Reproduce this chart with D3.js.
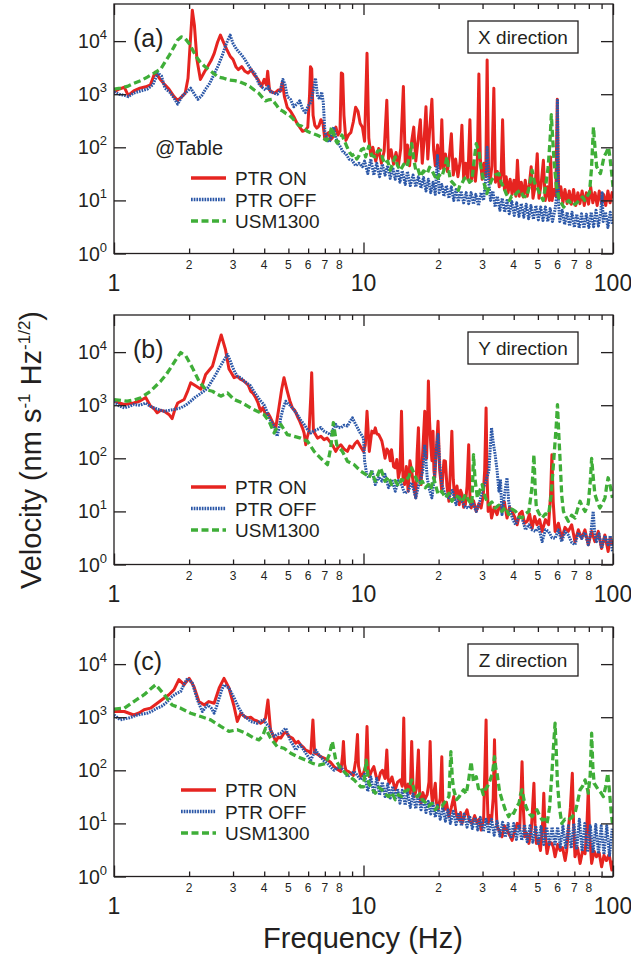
<!DOCTYPE html>
<html>
<head>
<meta charset="utf-8">
<script src="https://cdn.jsdelivr.net/npm/d3@7/dist/d3.min.js"></script>
<style>
  body { margin: 0; background: #fff; }
  text { font-family: "Liberation Sans", Arial, sans-serif; fill: #231f20; }
</style>
</head>
<body>
<svg id="chart"></svg>
<script>
// [frequency Hz, velocity nm s^-1 Hz^-1/2]
const aOn = [[1.0,1100],[1.05,1250],[1.1,1350],[1.14,950],[1.2,1150],[1.27,1300],[1.34,1380],[1.4,1500],[1.46,2600],[1.52,2000],[1.6,1500],[1.66,1250],[1.74,900],[1.8,760],[1.87,900],[1.93,1050],[1.98,2000],[2.02,9000],[2.06,38000],[2.1,20000],[2.15,4500],[2.22,1900],[2.3,2600],[2.38,3400],[2.45,4300],[2.52,5800],[2.6,9500],[2.67,13000],[2.74,9800],[2.83,7000],[2.92,5200],[3.0,4500],[3.08,3300],[3.15,2900],[3.25,3300],[3.35,2700],[3.45,2500],[3.55,2900],[3.65,2300],[3.78,1900],[3.9,1400],[4.0,1900],[4.08,1500],[4.13,2700],[4.2,1200],[4.3,1100],[4.42,1050],[4.55,1200],[4.65,1150],[4.73,1700],[4.82,900],[4.95,560],[5.1,480],[5.25,380],[5.4,290],[5.55,240],[5.7,200],[5.85,210],[5.98,240],[6.08,1000],[6.13,3300],[6.2,3000],[6.28,400],[6.38,260],[6.5,230],[6.62,250],[6.75,330],[6.88,280],[7.0,140],[7.12,175],[7.25,190],[7.38,140],[7.5,150],[7.62,200],[7.75,240],[7.9,170],[8.05,200],[8.15,2500],[8.25,2400],[8.35,400],[8.5,135],[8.7,170],[8.9,190],[9.1,300],[9.3,570],[9.5,480],[9.7,280],[9.9,240],
  [10.1,130],[10.33,5900],[10.5,150],[10.7,70],[10.9,100],[11.2,55],[11.5,95],[11.8,50],[12.1,85],[12.4,770],[12.6,60],[12.9,90],[13.2,48],[13.5,80],[13.8,45],[14.1,95],[14.45,1400],[14.7,50],[15.0,110],[15.3,45],[15.6,130],[15.9,240],[16.2,55],[16.5,120],[16.9,330],[17.2,50],[17.5,140],[17.8,580],[18.1,60],[18.4,200],[18.8,800],[19.1,90],[19.4,45],[19.8,110],[20.3,40],[20.6,330],[20.9,40],[21.3,75],[21.7,35],[22.1,70],[22.5,180],[22.9,30],[23.4,60],[23.9,28],[24.4,55],[24.8,260],[25.2,26],[25.7,50],[26.2,25],[26.7,330],[27.1,25],[27.6,45],[28.1,23],[28.6,60],[29.0,2400],[29.4,60],[29.9,25],[30.4,50],[30.9,28],[31.3,4400],[31.7,40],[32.2,23],[32.7,45],[33.3,1300],[33.8,22],[34.4,35],[35.0,18],[35.6,30],[36.1,330],[36.7,16],[37.3,28],[38.0,14],[38.7,25],[39.4,13],[40.1,24],[40.8,12],[41.4,57],[42.1,12],[42.9,22],[43.7,11.6],[44.5,24],[45.3,12],[46.2,20],[47.0,43],[47.8,11],[48.7,18],[49.7,76],[50.5,11],[51.5,20],[52.6,57],[53.5,10],[54.6,18],[55.6,10],[56.2,66],[57.0,10],[58.0,16],[59.0,12],[59.8,800],[60.6,11],[61.8,18],[63.0,9],[64.2,16],[65.5,8.7],[66.8,15],[68.1,8.5],[69.5,16],[70.9,8],[72.3,14],[73.7,8.7],[75.2,15],[76.7,8],[78.2,14],[79.8,8.5],[81.4,18],[83.0,9],[84.7,14],[86.4,8],[88.1,15],[89.9,9],[91.7,13],[93.5,8],[95.4,15],[97.3,9],[99.2,14],[100,11]];

const aOff = [[1.0,1100],[1.05,1000],[1.1,950],[1.14,900],[1.2,1050],[1.28,1150],[1.36,1250],[1.43,1500],[1.5,2500],[1.55,2200],[1.6,1300],[1.67,1100],[1.74,850],[1.8,650],[1.87,900],[1.95,1100],[2.03,1300],[2.1,1000],[2.17,800],[2.25,950],[2.33,1250],[2.42,1600],[2.52,2400],[2.62,3500],[2.72,5500],[2.82,9000],[2.92,13000],[3.0,9000],[3.1,7000],[3.2,5900],[3.3,5000],[3.42,3800],[3.55,2900],[3.68,2400],[3.8,1600],[3.92,1350],[4.05,1200],[4.15,1400],[4.25,1100],[4.38,1050],[4.52,1000],[4.65,1200],[4.75,1900],[4.85,1500],[4.95,900],[5.1,800],[5.25,580],[5.4,650],[5.55,750],[5.7,520],[5.85,450],[6.0,600],[6.15,700],[6.3,1200],[6.42,2000],[6.55,900],[6.7,800],[6.8,1100],[6.9,700],[7.0,200],[7.15,140],[7.3,125],[7.45,170],[7.6,240],[7.75,150],[7.9,120],[8.1,100],[8.3,80],[8.5,76],[8.75,60],[9.0,57],[9.3,45],[9.6,50],[9.9,43],
  [10.1,55],[10.4,32],[10.7,60],[11.0,30],[11.3,50],[11.6,28],[11.9,48],[12.2,30],[12.5,45],[12.8,26],[13.1,42],[13.4,25],[13.7,38],[14.0,22],[14.3,36],[14.7,20],[15.0,35],[15.4,19],[15.8,30],[16.2,18],[16.6,28],[17.0,17],[17.4,27],[17.8,15],[18.2,25],[18.6,14],[19.0,22],[19.4,13],[19.8,70],[20.1,14],[20.6,20],[21.0,12],[21.5,19],[22.0,11],[22.5,18],[23.0,10],[23.5,16],[24.0,9.5],[24.6,15],[25.2,9],[25.8,14],[26.4,8.7],[27.0,14],[27.6,8.5],[28.2,13],[28.9,8],[29.6,14],[30.3,10],[31.0,30],[31.3,100],[31.7,25],[32.3,10],[33.0,15],[33.7,7.5],[34.4,12],[35.2,6.5],[36.0,11],[36.8,6],[37.6,10],[38.4,5.6],[39.3,9.5],[40.2,5.2],[41.1,9],[42.0,5],[42.9,8.7],[43.9,4.8],[44.9,8.5],[45.9,4.5],[46.9,8],[48.0,4.4],[49.1,8],[50.2,4.3],[51.3,7.5],[52.4,4.2],[53.6,7.5],[54.8,4],[56.0,7],[57.2,4],[58.5,6.5],[59.5,12],[59.9,770],[60.4,10],[61.2,4],[62.6,6.5],[64.0,3.5],[65.5,6],[67.0,3.3],[68.5,6],[70.0,3.1],[71.6,5.5],[73.2,3],[74.8,5.6],[76.5,3],[78.2,5.5],[80.0,3.1],[81.8,6],[83.6,3.2],[85.5,6.5],[87.4,3.3],[89.3,6],[90.5,14],[91.3,4],[93.3,6],[95.4,3.1],[97.5,6],[99.5,3.5]];

const aUsm = [[1.0,1250],[1.06,1300],[1.13,1400],[1.2,1600],[1.28,1800],[1.36,2100],[1.45,2500],[1.54,3000],[1.6,4000],[1.67,5500],[1.74,7800],[1.8,10500],[1.86,12000],[1.92,11500],[2.0,9000],[2.06,7000],[2.14,5000],[2.22,4000],[2.3,3400],[2.4,2900],[2.5,2500],[2.62,2100],[2.75,2000],[2.9,1850],[3.05,1800],[3.2,1700],[3.35,1550],[3.5,1400],[3.65,1200],[3.8,1050],[3.95,850],[4.05,750],[4.15,780],[4.3,800],[4.45,650],[4.6,520],[4.75,480],[4.9,430],[5.05,400],[5.2,350],[5.35,300],[5.5,260],[5.65,250],[5.8,220],[5.95,200],[6.1,190],[6.3,180],[6.5,170],[6.7,160],[6.9,150],[7.1,135],[7.3,160],[7.45,240],[7.55,200],[7.7,140],[7.85,120],[8.0,140],[8.2,170],[8.4,130],[8.6,100],[8.8,80],[9.0,70],[9.2,75],[9.4,60],[9.6,70],[9.8,90],
  [10.0,95],[10.2,66],[10.5,105],[10.8,70],[11.15,66],[11.4,85],[11.7,88],[11.95,60],[12.2,49],[12.5,55],[12.8,37],[13.1,50],[13.4,66],[13.7,45],[14.05,37],[14.5,48],[14.95,43],[15.3,70],[15.6,117],[15.9,60],[16.2,37],[16.5,40],[16.9,28],[17.4,36],[18.0,32],[18.4,42],[18.8,37],[19.2,30],[19.7,24],[20.1,30],[20.6,28],[21.1,40],[21.6,66],[22.0,35],[22.3,24],[23.1,20],[24.0,15.5],[24.4,20],[24.8,21],[25.4,26],[26.0,28],[26.6,22],[27.2,24],[27.8,60],[28.3,117],[28.7,95],[29.0,88],[29.5,45],[29.9,32],[30.5,20],[31.2,13.4],[31.9,18],[32.6,24],[33.7,30],[34.9,32],[35.6,22],[36.4,18],[37.4,13],[38.5,10],[39.2,12],[40.0,11.6],[41.2,14],[42.5,15.5],[43.7,12],[45.0,11.6],[46.2,18],[47.4,37],[48.4,22],[49.5,18],[51.0,13],[52.5,10],[53.8,20],[55.0,43],[56.0,150],[56.6,410],[57.3,150],[58.0,57],[59.2,20],[60.5,11.6],[62.0,9],[63.5,7.5],[65.0,9],[66.5,10],[68.7,8],[71.0,8.7],[73.2,10],[75.5,11.6],[77.0,10],[78.5,11.6],[80.5,14],[82.0,40],[83.5,240],[84.8,90],[86.0,43],[87.5,38],[89.0,32],[90.5,45],[92.0,66],[94.0,80],[96.0,100],[97.5,57],[99.0,30],[100,18]];

const bOn = [[1.0,1220],[1.05,1100],[1.1,1030],[1.2,1100],[1.27,1200],[1.34,1400],[1.4,970],[1.45,850],[1.49,720],[1.54,800],[1.59,770],[1.66,670],[1.71,560],[1.75,800],[1.8,1100],[1.91,1280],[1.97,1800],[2.03,2650],[2.13,2300],[2.23,2000],[2.33,3800],[2.48,5400],[2.6,12000],[2.69,21000],[2.8,11000],[2.89,4800],[2.96,4000],[3.03,3300],[3.12,3500],[3.22,3050],[3.3,2900],[3.37,2650],[3.45,2400],[3.53,1830],[3.6,1700],[3.7,1380],[3.78,1100],[3.87,770],[3.95,900],[4.05,670],[4.15,700],[4.24,580],[4.35,450],[4.45,375],[4.58,890],[4.7,2000],[4.8,3300],[4.95,1830],[5.07,1200],[5.19,890],[5.3,800],[5.43,620],[5.55,500],[5.69,375],[5.78,300],[5.87,180],[5.95,250],[6.05,325],[6.15,1500],[6.2,4100],[6.25,1200],[6.3,325],[6.42,280],[6.54,240],[6.75,260],[6.95,225],[7.15,240],[7.39,195],[7.55,170],[7.74,135],[7.9,160],[8.11,180],[8.35,150],[8.62,135],[8.8,170],[9.03,156],[9.25,190],[9.46,210],[9.7,170],[10.0,135],
  [10.17,180],[10.33,770],[10.55,135],[10.8,325],[11.0,300],[11.15,375],[11.3,290],[11.5,280],[11.7,240],[11.85,210],[12.0,156],[12.2,100],[12.4,150],[12.6,135],[12.8,90],[12.95,145],[13.2,70],[13.4,66],[13.6,95],[13.8,43],[14.0,60],[14.2,770],[14.4,45],[14.6,32],[14.85,70],[15.1,24],[15.35,90],[15.6,57],[15.9,30],[16.2,18],[16.4,120],[16.6,375],[16.8,40],[17.0,32],[17.3,150],[17.6,770],[17.75,120],[17.9,100],[18.05,400],[18.2,2850],[18.4,500],[18.6,180],[18.8,90],[19.0,325],[19.15,60],[19.3,43],[19.6,150],[19.9,500],[20.2,60],[20.6,24],[21.0,90],[21.3,88],[21.6,30],[22.0,15.5],[22.3,60],[22.6,325],[22.9,40],[23.2,18],[23.7,30],[24.2,13.4],[24.5,25],[24.8,21],[25.2,12],[25.6,13.4],[26.0,30],[26.4,180],[26.7,20],[27.0,11.6],[27.6,16],[28.3,10],[29.0,14],[29.6,11.6],[30.2,20],[30.6,60],[31.0,890],[31.3,40],[31.6,10],[32.1,14],[32.6,7.5],[33.4,12],[34.3,8.7],[35.1,13],[35.9,10],[36.7,15],[37.6,7.5],[38.5,12],[39.4,10],[40.3,8],[41.3,5.6],[42.2,9],[43.2,10],[44.2,6],[45.3,6.5],[46.3,9],[47.4,4.8],[48.5,8],[49.6,5.6],[50.8,7],[52.0,4.2],[53.6,7],[55.2,5.6],[56.2,20],[56.9,117],[57.6,15],[58.6,4.2],[60.4,6],[62.3,3.1],[64.2,5],[66.2,4.2],[68.3,5.6],[70.4,2.7],[72.6,4.5],[74.9,3.1],[77.2,4.5],[79.6,2.35],[82.1,4.2],[84.6,2.7],[87.3,4.2],[90.0,2.0],[92.8,3.6],[95.6,1.76],[97.5,3.2],[99.5,2.35]];

const bOff = [[1.0,1190],[1.05,970],[1.1,890],[1.15,950],[1.2,1030],[1.27,1000],[1.34,1100],[1.4,950],[1.45,890],[1.52,820],[1.59,770],[1.66,800],[1.74,830],[1.85,890],[1.94,1000],[2.03,1190],[2.11,1400],[2.19,1580],[2.28,1800],[2.37,2100],[2.46,2800],[2.56,3800],[2.64,5000],[2.72,6300],[2.85,9000],[2.92,7000],[2.98,5400],[3.05,4200],[3.12,3550],[3.22,3300],[3.32,2850],[3.42,2600],[3.53,2300],[3.64,1800],[3.75,1480],[3.87,1200],[3.99,1030],[4.08,800],[4.18,580],[4.28,480],[4.38,405],[4.51,260],[4.6,400],[4.66,580],[4.77,900],[4.88,1190],[5.0,1050],[5.11,970],[5.27,800],[5.43,670],[5.6,520],[5.78,435],[5.96,350],[6.15,300],[6.34,330],[6.54,350],[6.74,380],[6.95,325],[7.17,300],[7.39,280],[7.55,350],[7.74,435],[7.9,380],[8.11,375],[8.36,420],[8.62,405],[8.8,480],[9.03,580],[9.2,480],[9.46,375],[9.7,300],[10.0,240],
  [10.1,90],[10.3,50],[10.5,43],[10.8,60],[11.15,32],[11.5,45],[11.85,37],[12.2,50],[12.6,28],[13.0,40],[13.4,24],[13.8,38],[14.2,32],[14.6,22],[15.1,24],[15.6,35],[16.2,18],[16.6,30],[16.9,37],[17.3,60],[17.6,180],[17.8,90],[18.0,43],[18.4,25],[18.8,18],[19.2,40],[19.6,150],[19.9,280],[20.2,80],[20.6,32],[21.3,20],[22.0,18],[22.7,25],[23.5,13.4],[24.1,20],[24.8,15.5],[25.6,12],[26.4,11.6],[27.3,15],[28.3,10],[29.1,14],[29.9,24],[30.8,35],[31.8,57],[32.2,150],[32.6,375],[33.1,200],[33.7,117],[34.3,60],[34.9,24],[35.4,40],[35.9,8.7],[36.7,20],[37.6,43],[38.2,15],[38.8,10],[39.7,7],[40.7,5.6],[41.9,8],[43.2,7.5],[44.6,4.5],[46.0,5.6],[47.4,4.5],[48.9,4.2],[50.4,5],[52.0,2.7],[53.6,4.5],[55.2,4.2],[56.9,3.2],[58.6,3.1],[60.4,4.5],[62.3,2.7],[64.2,4.2],[66.2,3.6],[68.3,2.6],[70.4,2.35],[72.6,4],[74.9,3.1],[77.2,4],[79.6,2.35],[81.5,4],[83.3,10],[84.6,3.5],[85.9,2.7],[87.9,3.8],[90.0,2.0],[92.8,3.5],[95.6,2.35],[97.5,3.5],[99.5,1.76]];

const bUsm = [[1.0,1280],[1.13,1190],[1.2,1250],[1.28,1380],[1.4,1830],[1.54,2850],[1.62,3800],[1.69,5100],[1.77,7200],[1.85,9800],[1.94,8500],[2.06,5100],[2.19,2850],[2.33,1970],[2.48,1830],[2.68,1480],[2.85,1700],[3.03,1280],[3.27,1100],[3.53,890],[3.75,770],[3.99,670],[4.18,500],[4.38,300],[4.5,380],[4.66,435],[4.95,280],[5.27,260],[5.6,240],[5.96,210],[6.34,135],[6.74,100],[7.17,76],[7.39,156],[7.57,470],[7.81,180],[8.23,135],[8.62,88],[9.17,76],[9.75,57],
  [10.2,50],[10.5,43],[10.8,55],[11.15,37],[11.7,66],[12.2,37],[12.6,45],[12.95,32],[13.4,38],[13.8,30],[14.2,40],[14.7,37],[15.2,45],[15.6,66],[16.2,43],[16.7,32],[17.2,37],[17.7,28],[18.2,32],[18.6,26],[19.1,43],[19.5,30],[19.9,21],[20.6,24],[21.3,18],[22.0,22],[22.6,15.5],[23.4,20],[24.2,18],[24.9,15],[25.6,21],[26.4,16],[27.2,13.4],[27.6,117],[28.0,40],[28.6,18],[29.2,24],[29.9,32],[30.8,18],[31.8,13.4],[32.7,15],[33.7,11.6],[34.8,13],[35.9,10],[37.0,12],[38.2,8.7],[39.4,11],[40.7,10],[41.9,8],[43.2,7.5],[44.6,9],[46.0,10],[47.4,30],[48.2,117],[48.8,25],[49.3,11.6],[50.6,9],[52.0,7.5],[53.6,9],[55.2,8.7],[56.5,20],[57.7,76],[59.2,400],[59.9,1030],[60.6,300],[61.4,88],[62.3,20],[63.3,10],[64.7,8],[66.2,6.5],[68.3,8.5],[70.4,7.5],[72.1,11],[73.8,15.5],[75.5,12],[77.3,10],[79.6,14],[81.2,40],[82.1,100],[83.3,45],[84.6,21],[86.6,15],[88.6,11.6],[90.7,14],[92.9,18],[94.3,30],[95.6,43],[97.5,30],[99.5,18]];

const cOn = [[1.0,1280],[1.1,1280],[1.2,1100],[1.26,1200],[1.32,1380],[1.4,1480],[1.49,1830],[1.59,2300],[1.66,2650],[1.74,3300],[1.82,5100],[1.91,4100],[2.0,5400],[2.09,3800],[2.19,1970],[2.3,1700],[2.4,1970],[2.52,1830],[2.64,3550],[2.76,5400],[2.89,3550],[3.03,1580],[3.12,830],[3.22,1190],[3.32,1050],[3.42,970],[3.53,1000],[3.64,890],[3.75,850],[3.87,770],[3.96,820],[4.05,970],[4.14,2100],[4.24,580],[4.35,450],[4.45,350],[4.55,420],[4.66,405],[4.8,500],[4.9,520],[5.03,435],[5.2,400],[5.35,325],[5.47,350],[5.6,300],[5.75,270],[5.87,240],[6.0,230],[6.15,210],[6.27,890],[6.37,210],[6.55,200],[6.74,180],[6.95,170],[7.17,156],[7.4,140],[7.62,117],[7.85,105],[8.11,95],[8.25,200],[8.31,350],[8.4,130],[8.5,100],[8.7,95],[8.89,88],[9.1,80],[9.3,150],[9.46,470],[9.55,120],[9.75,76],
  [10.0,88],[10.2,120],[10.33,670],[10.45,110],[10.55,76],[10.8,100],[11.0,117],[11.25,75],[11.5,66],[11.7,90],[11.9,100],[12.2,70],[12.4,240],[12.55,70],[12.7,57],[13.0,75],[13.4,43],[13.7,60],[14.05,66],[14.3,50],[14.5,970],[14.65,60],[14.8,43],[15.1,55],[15.4,37],[15.6,350],[15.8,45],[16.0,32],[16.3,45],[16.6,240],[16.8,35],[17.0,24],[17.3,38],[17.6,28],[18.0,35],[18.3,60],[18.5,350],[18.7,40],[18.9,24],[19.1,35],[19.4,57],[19.6,25],[19.9,18],[20.3,30],[20.6,180],[20.8,25],[21.1,18],[21.5,25],[22.0,13.4],[22.5,20],[23.0,32],[23.5,15],[24.2,11.6],[24.5,16],[24.8,10],[25.4,14],[26.0,18],[26.6,11],[27.2,10],[27.9,14],[28.6,10],[29.1,12],[29.6,7.5],[30.3,12],[31.0,890],[31.3,40],[31.6,10],[32.1,14],[32.6,11.6],[33.1,30],[33.5,375],[33.9,30],[34.3,8.7],[35.1,7],[35.9,5.6],[36.7,9],[37.6,7.5],[38.5,6],[39.4,4.8],[40.3,7],[41.3,10],[42.3,8],[43.2,145],[43.7,20],[44.3,5.6],[45.1,6.5],[46.0,4.2],[47.1,8],[48.2,57],[48.7,10],[49.3,4.2],[50.2,5],[51.2,3.1],[52.1,8],[52.8,37],[53.5,6],[54.4,2.7],[55.6,4.5],[56.9,4.2],[57.7,3.5],[58.6,2.35],[60.0,4],[61.4,3.1],[62.8,3.5],[64.3,2.0],[65.2,3],[66.2,7.5],[67.5,20],[68.7,88],[69.5,10],[70.4,2.35],[72.1,3.5],[73.8,1.76],[75.5,3],[77.3,2.7],[78.5,8],[79.6,43],[80.6,6],[82.1,1.76],[84.0,3],[85.9,2.35],[88.0,2.8],[90.0,1.52],[92.0,2.5],[94.1,2.0],[96.5,2.6],[98.9,1.32],[100,2]];

const cOff = [[1.0,1100],[1.06,890],[1.1,930],[1.15,970],[1.24,1100],[1.3,1150],[1.36,1190],[1.42,1300],[1.49,1480],[1.55,1600],[1.61,1830],[1.71,2450],[1.78,2800],[1.85,3050],[1.91,4200],[1.97,5400],[2.06,4400],[2.16,2100],[2.26,1280],[2.37,1700],[2.45,1500],[2.52,1190],[2.58,1600],[2.64,2300],[2.7,3200],[2.76,4100],[2.89,3550],[3.03,2300],[3.17,1480],[3.32,1030],[3.42,950],[3.53,830],[3.64,800],[3.75,770],[3.87,850],[3.99,890],[4.08,750],[4.18,670],[4.28,520],[4.38,435],[4.52,480],[4.66,500],[4.77,560],[4.88,620],[5.0,450],[5.11,350],[5.23,300],[5.35,240],[5.48,280],[5.6,300],[5.73,250],[5.87,210],[6.0,180],[6.15,156],[6.3,200],[6.44,240],[6.6,200],[6.74,180],[6.95,150],[7.17,135],[7.4,115],[7.62,100],[7.85,110],[8.11,117],[8.36,95],[8.62,76],[8.9,85],[9.17,95],[9.45,80],[9.75,66],
  [10.1,85],[10.4,40],[10.7,75],[11.0,36],[11.3,70],[11.6,34],[11.9,60],[12.2,32],[12.5,55],[12.8,30],[13.1,50],[13.4,28],[13.7,45],[14.0,24],[14.3,42],[14.7,22],[15.0,40],[15.4,20],[15.8,36],[16.2,19],[16.6,34],[17.0,18],[17.4,30],[17.8,16],[18.2,26],[18.6,15],[19.0,24],[19.4,13],[19.8,22],[20.3,12],[20.8,20],[21.3,11],[21.8,18],[22.3,10],[22.9,17],[23.5,9.5],[24.1,16],[24.7,9],[25.3,15],[26.0,8.5],[26.6,14],[27.3,8],[28.0,13],[28.7,7.5],[29.4,13],[30.2,7],[31.0,12],[31.8,6.5],[32.6,12],[33.4,6],[34.3,11],[35.2,5.8],[36.1,10.5],[37.0,5.5],[38.0,10],[39.0,5.2],[40.0,10],[41.0,5],[42.0,9.5],[43.1,4.8],[44.2,9.5],[45.3,4.5],[46.5,9],[47.7,4.4],[49.0,9],[50.2,4.2],[51.5,8.7],[52.8,4],[54.2,8.5],[55.6,4],[57.0,8.5],[58.5,3.8],[60.0,8.5],[61.5,3.6],[63.0,9],[64.6,3.5],[66.3,9],[68.0,3.4],[69.7,10],[71.5,3.2],[73.3,12],[75.2,3],[77.1,10],[79.1,2.9],[81.1,9],[83.2,2.8],[85.3,9.5],[87.5,2.7],[89.7,9],[92.0,2.6],[94.4,9],[96.8,2.5],[99.3,8]];

const cUsm = [[1.0,1420],[1.1,1480],[1.2,1970],[1.32,2650],[1.4,3400],[1.47,4100],[1.59,2650],[1.71,1700],[1.85,1480],[2.03,1190],[2.23,1030],[2.44,890],[2.68,670],[2.89,540],[3.12,580],[3.37,500],[3.64,405],[3.81,375],[3.95,450],[4.05,620],[4.24,405],[4.51,280],[4.8,260],[5.11,210],[5.43,180],[5.87,156],[6.25,135],[6.64,125],[7.06,135],[7.3,200],[7.5,350],[7.74,156],[8.11,108],[8.62,82],[9.17,66],[9.75,49],
  [10.0,49],[10.25,156],[10.5,57],[10.8,45],[11.15,37],[11.5,48],[11.85,43],[12.2,36],[12.6,32],[13.0,38],[13.4,28],[13.8,35],[14.2,32],[14.6,40],[15.1,43],[15.6,66],[16.0,40],[16.4,32],[16.8,36],[17.2,28],[17.7,25],[18.2,21],[18.8,24],[19.4,18],[20.0,22],[20.6,21],[21.3,26],[22.0,32],[22.4,225],[22.7,70],[23.0,43],[23.6,28],[24.2,32],[24.7,38],[25.2,43],[25.8,36],[26.4,66],[27.0,145],[27.6,60],[28.3,76],[28.9,45],[29.6,49],[30.2,35],[30.7,43],[31.4,50],[32.2,66],[32.9,90],[33.5,180],[33.9,110],[34.3,88],[35.1,40],[35.9,28],[37.0,18],[38.2,13.4],[39.1,17],[40.0,15.5],[41.0,20],[42.0,24],[42.6,35],[43.2,43],[44.2,25],[45.3,18],[46.3,15],[47.4,13.4],[48.5,16],[49.6,18],[50.8,14],[52.0,11.6],[53.2,12],[54.4,10],[55.7,20],[56.9,88],[57.8,300],[58.6,770],[59.3,200],[59.9,57],[61.0,20],[62.3,10],[64.2,12],[66.2,11.6],[68.3,13],[70.4,15.5],[72.1,25],[73.8,43],[75.5,50],[77.3,66],[78.5,50],[79.6,37],[81.0,80],[82.1,500],[83.0,120],[84.0,57],[85.6,50],[87.3,43],[89.4,38],[91.5,32],[93.5,50],[95.3,88],[96.4,50],[97.4,28],[98.5,15],[99.5,10]];

const panelLabels = ['(a)', '(b)', '(c)'];
const directions = ['X direction', 'Y direction', 'Z direction'];
const seriesNames = ['PTR ON', 'PTR OFF', 'USM1300'];
const yTickExps = [0, 1, 2, 3, 4];
const minorTicks = [2, 3, 4, 5, 6, 7, 8, 9, 20, 30, 40, 50, 60, 70, 80, 90];
const majorTicks = [1, 10, 100];

const W = 631, H = 962;
const svg = d3.select('#chart').attr('width', W).attr('height', H);

const left = 114, right = 613, plotH = 249.5;
const x = d3.scaleLog().domain([1, 100]).range([left, right]);

const styles = [
    { color: '#e62420', width: 3, dash: null },
    { color: '#2c58a8', width: 3, dash: '1.7,1' },
    { color: '#3fae38', width: 3.3, dash: '7,3.5' }
];

const panels = [
    { top: 4, data: [aOn, aOff, aUsm], legX: 191, legY: 178, table: true },
    { top: 315, data: [bOn, bOff, bUsm], legX: 191, legY: 487, table: false },
    { top: 627, data: [cOn, cOff, cUsm], legX: 181, legY: 790, table: false }
];

panels.forEach((p, i) => {
    let y = d3.scaleLog().domain([1, 50000]).range([p.top + plotH, p.top]);
    let bottom = p.top + plotH;
    let g = svg.append('g');

    g.append('clipPath').attr('id', 'clip' + i)
        .append('rect').attr('x', left).attr('y', p.top)
        .attr('width', right - left).attr('height', plotH);

    let line = d3.line().x(d => x(d[0])).y(d => y(d[1]));

    // red first, blue over it, green on top
    p.data.forEach((ds, k) => {
        g.append('path').datum(ds)
            .attr('clip-path', 'url(#clip' + i + ')')
            .attr('d', line)
            .attr('fill', 'none')
            .attr('stroke', styles[k].color)
            .attr('stroke-width', styles[k].width)
            .attr('stroke-dasharray', styles[k].dash)
            .attr('stroke-linejoin', 'round');
    });

    // frame
    g.append('rect').attr('x', left).attr('y', p.top)
        .attr('width', right - left).attr('height', plotH)
        .attr('fill', 'none').attr('stroke', '#231f20').attr('stroke-width', 1.3);

    // inward ticks
    let axes = [
        [d3.axisBottom(x).tickValues(minorTicks).tickSize(-5), bottom, 0],
        [d3.axisBottom(x).tickValues(majorTicks).tickSize(-11), bottom, 0],
        [d3.axisTop(x).tickValues(minorTicks).tickSize(-5), p.top, 0],
        [d3.axisTop(x).tickValues(majorTicks).tickSize(-11), p.top, 0],
        [d3.axisLeft(y).tickValues(yTickExps.map(e => Math.pow(10, e))).tickSize(-12), 0, left],
        [d3.axisRight(y).tickValues(yTickExps.map(e => Math.pow(10, e))).tickSize(-12), 0, right]
    ];
    axes.forEach(([ax, ty, tx]) => {
        let a = g.append('g').attr('transform', `translate(${tx},${ty})`)
            .call(ax.tickFormat('').tickSizeOuter(0));
        a.select('.domain').remove();
        a.selectAll('line').attr('stroke', '#231f20').attr('stroke-width', 1.3);
    });

    // x tick labels
    g.selectAll('.minlab').data(minorTicks.filter(v => String(v)[0] !== '9'))
        .enter().append('text')
        .attr('x', d => x(d)).attr('y', bottom + 15)
        .attr('text-anchor', 'middle').attr('font-size', 12)
        .text(d => String(d)[0]);
    g.selectAll('.majlab').data(majorTicks)
        .enter().append('text')
        .attr('x', d => x(d)).attr('y', bottom + 37)
        .attr('text-anchor', 'middle').attr('font-size', 23)
        .text(d => d);

    // y tick labels 10^n
    yTickExps.forEach(e => {
        let t = g.append('text')
            .attr('x', 107).attr('y', y(Math.pow(10, e)) + 7)
            .attr('text-anchor', 'end').attr('font-size', 19.5);
        t.append('tspan').text('10');
        t.append('tspan').attr('dy', -9).attr('font-size', 13).text(e);
    });

    g.append('text').attr('x', 133).attr('y', p.top + 43)
        .attr('font-size', 25).text(panelLabels[i]);

    // direction box
    g.append('rect').attr('x', 468).attr('y', p.top + 17)
        .attr('width', 110).attr('height', 32)
        .attr('fill', '#fff').attr('stroke', '#231f20').attr('stroke-width', 1.3);
    g.append('text').attr('x', 523).attr('y', p.top + 40)
        .attr('text-anchor', 'middle').attr('font-size', 19)
        .text(directions[i]);

    // legend
    if (p.table) {
        g.append('text').attr('x', 155).attr('y', p.legY - 23)
            .attr('font-size', 20).text('@Table');
    }
    seriesNames.forEach((name, k) => {
        let ly = p.legY + k * 21.5;
        g.append('line')
            .attr('x1', p.legX).attr('x2', p.legX + 35)
            .attr('y1', ly).attr('y2', ly)
            .attr('stroke', styles[k].color)
            .attr('stroke-width', styles[k].width + 0.4)
            .attr('stroke-dasharray', styles[k].dash);
        g.append('text').attr('x', p.legX + 44).attr('y', ly + 7)
            .attr('font-size', 19).text(name);
    });
});

// axis titles
let yt = svg.append('text')
    .attr('transform', 'translate(41,450) rotate(-90)')
    .attr('text-anchor', 'middle').attr('font-size', 29);
yt.append('tspan').text('Velocity (nm s');
yt.append('tspan').attr('dy', -11).attr('font-size', 17).text('-1');
yt.append('tspan').attr('dy', 11).text(' Hz');
yt.append('tspan').attr('dy', -11).attr('font-size', 17).text('-1/2');
yt.append('tspan').attr('dy', 11).text(')');

svg.append('text').attr('x', 363).attr('y', 948)
    .attr('text-anchor', 'middle').attr('font-size', 29)
    .text('Frequency (Hz)');
</script>
</body>
</html>
